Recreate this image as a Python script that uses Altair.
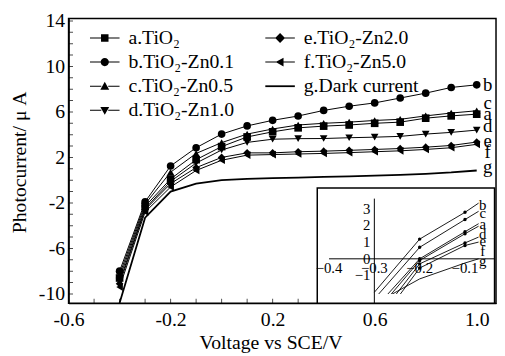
import altair as alt
import pandas as pd

FONT = "Liberation Serif"

# ---------------- data ----------------
voltage = [-0.4, -0.3, -0.2, -0.1, 0.0, 0.1, 0.2, 0.3, 0.4, 0.5, 0.6, 0.7, 0.8, 0.9, 1.0]
a_tio2 = [-8.6, -2.3, 0.1, 1.8, 2.95, 3.8, 4.25, 4.6, 4.75, 4.85, 5.0, 5.1, 5.45, 5.65, 5.8]
b_zn01 = [-8.0, -1.9, 1.25, 2.85, 4.05, 4.77, 5.26, 5.64, 6.13, 6.5, 6.79, 7.22, 7.65, 8.15, 8.38]
c_zn05 = [-8.3, -2.1, 0.7, 2.35, 3.3, 4.05, 4.5, 4.85, 5.0, 5.1, 5.25, 5.35, 5.65, 5.9, 6.1]
d_zn10 = [-8.9, -2.5, -0.1, 1.5, 2.65, 3.32, 3.6, 3.65, 3.66, 3.73, 3.78, 3.85, 4.05, 4.2, 4.4]
e_zn20 = [-9.1, -2.6, -0.3, 1.1, 2.0, 2.4, 2.4, 2.5, 2.55, 2.62, 2.7, 2.78, 2.9, 3.05, 3.35]
f_zn50 = [-9.4, -2.8, -0.6, 0.85, 1.75, 2.2, 2.25, 2.3, 2.35, 2.42, 2.5, 2.58, 2.7, 2.85, 3.15]
g_dark = [-10.8, -3.3, -1.0, -0.3, 0.0, 0.12, 0.18, 0.22, 0.28, 0.33, 0.4, 0.47, 0.56, 0.68, 0.85]

series_keys = ["a", "b", "c", "d", "e", "f"]
series_shapes = ["square", "circle", "triangle-up", "triangle-down", "diamond", "triangle-left"]

legend_left = ["a.TiO\u2082", "b.TiO\u2082-Zn0.1", "c.TiO\u2082-Zn0.5", "d.TiO\u2082-Zn1.0"]
legend_right = ["e.TiO\u2082-Zn2.0", "f.TiO\u2082-Zn5.0", "g.Dark current"]

end_labels = ["b", "c", "a", "d", "e", "f", "g"]
end_label_y = [8.38, 6.79, 5.78, 4.77, 3.47, 2.46, 1.16]

x_tick_labels = [-0.6, -0.2, 0.2, 0.6, 1.0]
y_tick_labels = [-10, -6, -2, 2, 6, 10, 14]
x_tick_marks = [-0.6, -0.5, -0.4, -0.3, -0.2, -0.1, 0.0, 0.1, 0.2, 0.3, 0.4, 0.5, 0.6, 0.7, 0.8, 0.9, 1.0]
y_tick_marks = [-10, -9, -8, -7, -6, -5, -4, -3, -2, -1, 0, 1, 2, 3, 4, 5, 6, 7, 8, 9, 10, 11, 12, 13, 14]

# inset (zoom of the onset region), values
inset_voltage = [-0.3, -0.2, -0.1, -0.07]
inset_a = [-3.0, 0.0, 1.62, 2.1]
inset_b = [-2.0, 1.18, 2.78, 3.33]
inset_c = [-2.4, 0.69, 2.35, 2.84]
inset_d = [-3.3, -0.1, 1.5, 1.95]
inset_e = [-3.8, -0.3, 0.95, 1.3]
inset_f = [-4.2, -0.55, 0.8, 1.0]
inset_g = [-2.7, -1.2, -0.25, 0.0]
inset_x_ticks = [-0.4, -0.3, -0.2, -0.1]
inset_y_ticks = [3, 2, 1, 0, -1]
inset_label_y = [3.24, 2.76, 2.06, 1.47, 1.06, 0.47, -0.12]
inset_floor = -2.1   # lower limit of the inset's drawn data

# ---------------- scales ----------------
X_DOMAIN = [-0.6, 1.0757]
Y_DOMAIN = [-10.81, 14.21]
IN_X_DOMAIN = [-0.426, -0.0348]
IN_Y_DOMAIN = [-2.65, 4.24]
IN_X_RANGE = [252.5, 432.5]
IN_Y_RANGE = [289, 172]

xs = alt.Scale(domain=X_DOMAIN, nice=False, zero=False)
ys = alt.Scale(domain=Y_DOMAIN, nice=False, zero=False)
xi = alt.Scale(domain=IN_X_DOMAIN, range=IN_X_RANGE, nice=False, zero=False)
yi = alt.Scale(domain=IN_Y_DOMAIN, range=IN_Y_RANGE, nice=False, zero=False)

all_series = dict(zip(series_keys, [a_tio2, b_zn01, c_zn05, d_zn10, e_zn20, f_zn50]))
inset_series = dict(zip(series_keys + ["g"], [inset_a, inset_b, inset_c, inset_d, inset_e, inset_f, inset_g]))

rows = []
for k in series_keys:
    for v, i in zip(voltage, all_series[k]):
        rows.append({"series": k, "V": v, "I": i})
main_df = pd.DataFrame(rows)
dark_df = pd.DataFrame({"V": voltage, "I": g_dark})

minus1 = "replace(format(datum.value, '.1f'), '\u2212', '-')"
minus0 = "replace(format(datum.value, 'd'), '\u2212', '-')"

x_axis = alt.Axis(values=x_tick_labels, labelExpr=minus1, tickSize=0, grid=False,
                  domainColor="black", domainWidth=1.5, labelFont=FONT, labelFontSize=20,
                  labelColor="black", labelPadding=7, labelFlush=False, labelOverlap=False,
                  title="Voltage vs SCE/V", titleFont=FONT, titleFontSize=20,
                  titleFontWeight="normal", titleColor="black", titleX=205, titleY=40,
                  titleBaseline="middle", titleAlign="center")
y_axis = alt.Axis(values=y_tick_labels, labelExpr=minus0, tickSize=0, grid=False,
                  domainColor="black", domainWidth=1.5, labelFont=FONT, labelFontSize=20,
                  labelColor="black", labelPadding=4, labelFlush=False, labelOverlap=False,
                  title="Photocurrent/ \u03bc A", titleFont=FONT, titleFontSize=20,
                  titleFontWeight="normal", titleColor="black", titleAngle=270,
                  titleX=-49.5, titleY=145.5, titleBaseline="middle", titleAlign="center")

lines = alt.Chart(main_df).mark_line(color="black", strokeWidth=1).encode(
    x=alt.X("V:Q", scale=xs, axis=x_axis),
    y=alt.Y("I:Q", scale=ys, axis=y_axis),
    detail="series:N",
)
points = alt.Chart(main_df).mark_point(filled=True, color="black", size=60, opacity=1).encode(
    x=alt.X("V:Q", scale=xs, axis=None),
    y=alt.Y("I:Q", scale=ys, axis=None),
    shape=alt.Shape("series:N", scale=alt.Scale(domain=series_keys, range=series_shapes), legend=None),
)
dark = alt.Chart(dark_df).mark_line(color="black", strokeWidth=1.8, clip=True).encode(
    x=alt.X("V:Q", scale=xs, axis=None),
    y=alt.Y("I:Q", scale=ys, axis=None),
)

xt_df = pd.DataFrame({"V": x_tick_marks, "base": Y_DOMAIN[0]})
yt_df = pd.DataFrame({"I": y_tick_marks, "base": X_DOMAIN[0]})
x_ticks = alt.Chart(xt_df).mark_tick(orient="vertical", size=9, thickness=1, color="black", clip=True).encode(
    x=alt.X("V:Q", scale=xs, axis=None), y=alt.Y("base:Q", scale=ys, axis=None))
y_ticks = alt.Chart(yt_df).mark_tick(orient="horizontal", size=9, thickness=1, color="black", clip=True).encode(
    x=alt.X("base:Q", scale=xs, axis=None), y=alt.Y("I:Q", scale=ys, axis=None))

end_df = pd.DataFrame({"lab": end_labels, "y": end_label_y, "x": 1.043})
end_text = alt.Chart(end_df).mark_text(font=FONT, fontSize=19, color="black", align="center", baseline="middle").encode(
    x=alt.X("x:Q", scale=xs, axis=None), y=alt.Y("y:Q", scale=ys, axis=None), text="lab:N")

# ---------------- inset ----------------
frame_df = pd.DataFrame({"x1": [IN_X_DOMAIN[0]], "x2": [IN_X_DOMAIN[1]], "y1": [IN_Y_DOMAIN[0]], "y2": [IN_Y_DOMAIN[1]]})
inset_bg = alt.Chart(frame_df).mark_rect(fill="white", strokeWidth=0).encode(
    x=alt.X("x1:Q", scale=xi, axis=None), x2="x2:Q",
    y=alt.Y("y1:Q", scale=yi, axis=None), y2="y2:Q")
inset_frame = alt.Chart(frame_df).mark_rect(fill=None, filled=False, stroke="black", strokeWidth=1.5).encode(
    x=alt.X("x1:Q", scale=xi, axis=None), x2="x2:Q",
    y=alt.Y("y1:Q", scale=yi, axis=None), y2="y2:Q")
mask_df = pd.DataFrame({"x1": [IN_X_DOMAIN[0]], "x2": [IN_X_DOMAIN[1]], "y1": [IN_Y_DOMAIN[0]], "y2": [inset_floor]})
inset_mask = alt.Chart(mask_df).mark_rect(fill="white", strokeWidth=0).encode(
    x=alt.X("x1:Q", scale=xi, axis=None), x2="x2:Q",
    y=alt.Y("y1:Q", scale=yi, axis=None), y2="y2:Q")

hax_df = pd.DataFrame({"x1": [inset_x_ticks[0]], "x2": [IN_X_DOMAIN[1]], "y": [0]})
inset_hax = alt.Chart(hax_df).mark_rule(color="black", strokeWidth=1).encode(
    x=alt.X("x1:Q", scale=xi, axis=None), x2="x2:Q", y=alt.Y("y:Q", scale=yi, axis=None))
vax_df = pd.DataFrame({"x": [-0.3], "y1": [IN_Y_DOMAIN[0]], "y2": [3.6]})
inset_vax = alt.Chart(vax_df).mark_rule(color="black", strokeWidth=1).encode(
    x=alt.X("x:Q", scale=xi, axis=None), y=alt.Y("y1:Q", scale=yi, axis=None), y2="y2:Q")

irows = []
for k, vals in inset_series.items():
    for v, i in zip(inset_voltage, vals):
        irows.append({"series": k, "V": v, "I": i})
inset_df = pd.DataFrame(irows)

inset_lines = alt.Chart(inset_df).mark_line(color="black", strokeWidth=0.9, clip=True).encode(
    x=alt.X("V:Q", scale=xi, axis=None), y=alt.Y("I:Q", scale=yi, axis=None), detail="series:N")
inset_pts = alt.Chart(inset_df).transform_filter(
    "datum.series != 'g' && (datum.V == -0.2 || datum.V == -0.1)"
).mark_circle(color="black", size=12, opacity=1).encode(
    x=alt.X("V:Q", scale=xi, axis=None), y=alt.Y("I:Q", scale=yi, axis=None))

ixl_df = pd.DataFrame({"x": inset_x_ticks, "y": 0})
inset_xl = alt.Chart(ixl_df).mark_text(font=FONT, fontSize=15, color="black", align="center", baseline="top", dy=2).encode(
    x=alt.X("x:Q", scale=xi, axis=None), y=alt.Y("y:Q", scale=yi, axis=None),
    text=alt.Text("x:Q", format=".1f"))
iyl_df = pd.DataFrame({"x": -0.3, "y": inset_y_ticks})
inset_yl = alt.Chart(iyl_df).mark_text(font=FONT, fontSize=15, color="black", align="right", baseline="middle", dx=-4).encode(
    x=alt.X("x:Q", scale=xi, axis=None), y=alt.Y("y:Q", scale=yi, axis=None),
    text=alt.Text("y:Q", format="d"))
ilab_df = pd.DataFrame({"lab": end_labels, "y": inset_label_y, "x": -0.061})
inset_lab = alt.Chart(ilab_df).mark_text(font=FONT, fontSize=15, color="black", align="center", baseline="middle").encode(
    x=alt.X("x:Q", scale=xi, axis=None), y=alt.Y("y:Q", scale=yi, axis=None), text="lab:N")

# ---------------- legends (line + symbol keys) ----------------
def seg(x1, x2, h):
    return f"M{x1},{-h}L{x2},{-h}L{x2},{h}L{x1},{h}Z"

side = seg(-1.5, -0.35, 0.05) + seg(0.35, 1.5, 0.05)
marker_paths = {
    "square": "M-0.38,-0.38L0.38,-0.38L0.38,0.38L-0.38,0.38Z",
    "circle": "M0.42,0A0.42,0.42,0,1,1,-0.42,0A0.42,0.42,0,1,1,0.42,0Z",
    "triangle-up": "M0,-0.45L0.45,0.35L-0.45,0.35Z",
    "triangle-down": "M-0.45,-0.35L0.45,-0.35L0,0.45Z",
    "diamond": "M0,-0.5L0.5,0L0,0.5L-0.5,0Z",
    "triangle-left": "M-0.45,0L0.35,-0.45L0.35,0.45Z",
}
left_paths = [side + marker_paths[s] for s in series_shapes[:4]]
right_paths = [side + marker_paths[s] for s in series_shapes[4:]] + [seg(-1.5, 1.5, 0.09)]


def legend_layer(labels, paths, lx, ly):
    return alt.Chart(pd.DataFrame({"label": labels})).transform_filter("false").mark_point(
        filled=True, color="black", size=400, opacity=1
    ).encode(
        shape=alt.Shape("label:N", scale=alt.Scale(domain=labels, range=paths),
                        legend=alt.Legend(title=None, orient="none", legendX=lx, legendY=ly,
                                          labelFont=FONT, labelFontSize=20, labelColor="black",
                                          labelOffset=14, rowPadding=4.5, padding=0, symbolSize=400,
                                          symbolFillColor="black", symbolStrokeWidth=0,
                                          symbolOpacity=1, symbolOffset=0, labelLimit=300))
    )


leg_left = legend_layer(legend_left, left_paths, 26.75, 9.75)
leg_right = legend_layer(legend_right, right_paths, 204.75, 9.75)

chart = alt.layer(
    lines, points, dark, x_ticks, y_ticks, end_text,
    inset_bg, inset_lines, inset_mask, inset_frame, inset_hax, inset_vax, inset_pts,
    inset_xl, inset_yl, inset_lab,
    leg_left, leg_right,
).resolve_scale(
    x="independent", y="independent", shape="independent"
).properties(
    width=434, height=289,
    autosize=alt.AutoSizeParams(type="none"),
    padding={"left": 61.5, "top": 8, "right": 1, "bottom": 51},
    background="white",
).configure_view(stroke="black", strokeWidth=1.5)

chart.save("out.html", embed_options={"renderer": "svg", "actions": False})
